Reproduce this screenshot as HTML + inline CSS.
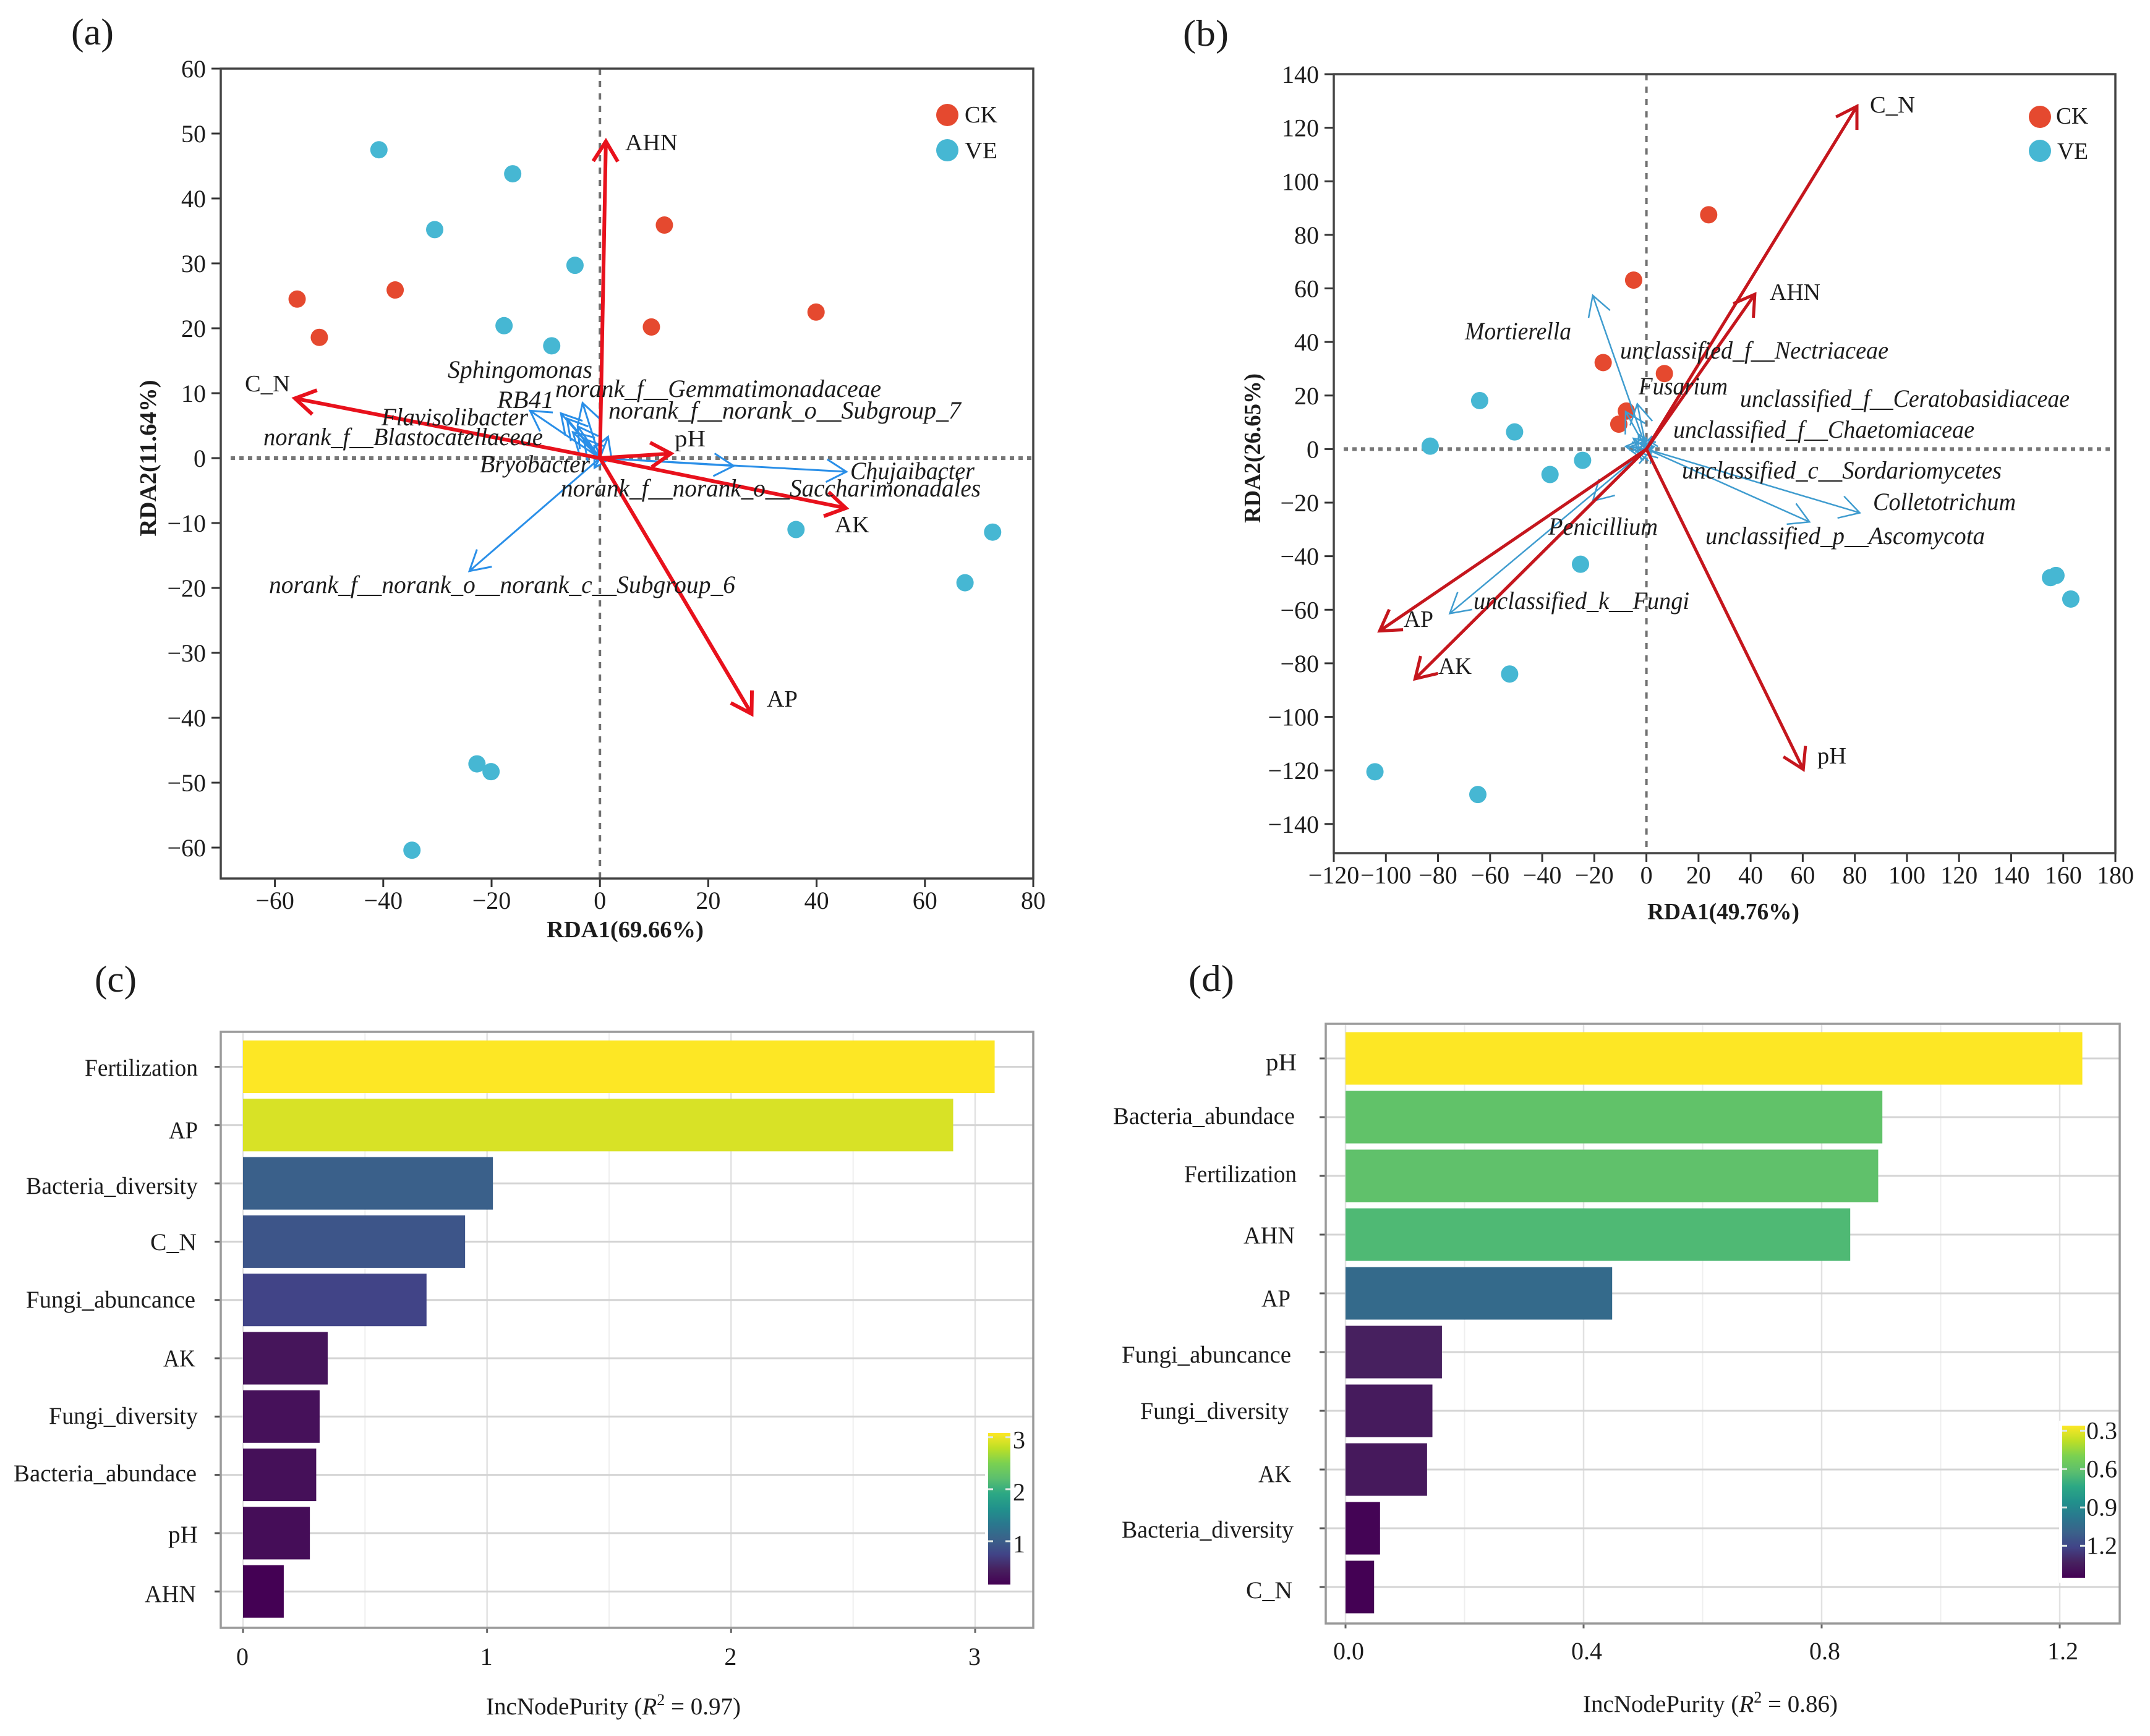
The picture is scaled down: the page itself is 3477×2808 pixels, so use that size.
<!DOCTYPE html>
<html lang="en">
<head>
<meta charset="utf-8">
<title>RDA biplots and random forest importance</title>
<style>
html,body{margin:0;padding:0;background:#fff;}
svg{display:block;}
text{font-family:"Liberation Serif",serif;fill:#1c1c1c;}
.sp{font-style:italic;font-size:40px;}
.env{font-size:38px;}
.tl{font-size:40px;}
.cat{font-size:39px;}
.ttl{font-weight:bold;font-size:38px;}
.pt{font-size:60px;}
.leg{font-size:38px;}
.xt{font-size:39px;}
</style>
</head>
<body>
<svg id="fig" xmlns="http://www.w3.org/2000/svg" width="3477" height="2808" viewBox="0 0 3477 2808">
  <defs>
    <linearGradient id="viridis-grad" x1="0" y1="1" x2="0" y2="0"></linearGradient>
  </defs>
  <rect x="0" y="0" width="3477" height="2808" fill="#fff"/>

  <text class="pt" x="115" y="72" textLength="69" lengthAdjust="spacingAndGlyphs">(a)</text>
  <text class="pt" x="1913" y="74" textLength="74" lengthAdjust="spacingAndGlyphs">(b)</text>
  <text class="pt" x="153" y="1604" textLength="68" lengthAdjust="spacingAndGlyphs">(c)</text>
  <text class="pt" x="1922" y="1603" textLength="74" lengthAdjust="spacingAndGlyphs">(d)</text>

  <g id="panel-a"></g>
  <g id="panel-b"></g>
  <g id="panel-c"></g>
  <g id="panel-d"></g>

  <g id="labels-a">
    <text class="ttl" x="1011" y="1516" text-anchor="middle" textLength="254" lengthAdjust="spacingAndGlyphs">RDA1(69.66%)</text>
    <text class="ttl" transform="translate(252,741) rotate(-90)" text-anchor="middle" textLength="253" lengthAdjust="spacingAndGlyphs">RDA2(11.64%)</text>

    <circle cx="1532" cy="186" r="18" fill="#e5492f"/>
    <text class="leg" x="1560" y="198" textLength="53" lengthAdjust="spacingAndGlyphs">CK</text>
    <circle cx="1532" cy="243" r="18" fill="#46b7d3"/>
    <text class="leg" x="1560" y="256" textLength="53" lengthAdjust="spacingAndGlyphs">VE</text>

    <text class="env" x="1011" y="243" textLength="85" lengthAdjust="spacingAndGlyphs">AHN</text>
    <text class="env" x="396" y="633" textLength="73" lengthAdjust="spacingAndGlyphs">C_N</text>
    <text class="env" x="1091" y="722" textLength="50" lengthAdjust="spacingAndGlyphs">pH</text>
    <text class="env" x="1350" y="861" textLength="56" lengthAdjust="spacingAndGlyphs">AK</text>
    <text class="env" x="1240" y="1143" textLength="50" lengthAdjust="spacingAndGlyphs">AP</text>

    <text class="sp" x="724" y="611" textLength="234" lengthAdjust="spacingAndGlyphs">Sphingomonas</text>
    <text class="sp" x="898" y="642" textLength="527" lengthAdjust="spacingAndGlyphs">norank_f__Gemmatimonadaceae</text>
    <text class="sp" x="984" y="677" textLength="570" lengthAdjust="spacingAndGlyphs">norank_f__norank_o__Subgroup_7</text>
    <text class="sp" x="804" y="660" textLength="92" lengthAdjust="spacingAndGlyphs">RB41</text>
    <text class="sp" x="617" y="688" textLength="237" lengthAdjust="spacingAndGlyphs">Flavisolibacter</text>
    <text class="sp" x="426" y="720" textLength="452" lengthAdjust="spacingAndGlyphs">norank_f__Blastocatellaceae</text>
    <text class="sp" x="776" y="764" textLength="178" lengthAdjust="spacingAndGlyphs">Bryobacter</text>
    <text class="sp" x="1375" y="775" textLength="201" lengthAdjust="spacingAndGlyphs">Chujaibacter</text>
    <text class="sp" x="907" y="803" textLength="679" lengthAdjust="spacingAndGlyphs">norank_f__norank_o__Saccharimonadales</text>
    <text class="sp" x="435" y="959" textLength="754" lengthAdjust="spacingAndGlyphs">norank_f__norank_o__norank_c__Subgroup_6</text>
  </g>

  <g id="labels-b">
    <text class="ttl" x="2787" y="1487" text-anchor="middle" textLength="246" lengthAdjust="spacingAndGlyphs">RDA1(49.76%)</text>
    <text class="ttl" transform="translate(2038,725) rotate(-90)" text-anchor="middle" textLength="242" lengthAdjust="spacingAndGlyphs">RDA2(26.65%)</text>

    <circle cx="3299" cy="189" r="18" fill="#e5492f"/>
    <text class="leg" x="3325" y="200" textLength="52" lengthAdjust="spacingAndGlyphs">CK</text>
    <circle cx="3299" cy="244" r="18" fill="#46b7d3"/>
    <text class="leg" x="3327" y="257" textLength="50" lengthAdjust="spacingAndGlyphs">VE</text>

    <text class="env" x="3024" y="182" textLength="73" lengthAdjust="spacingAndGlyphs">C_N</text>
    <text class="env" x="2862" y="485" textLength="82" lengthAdjust="spacingAndGlyphs">AHN</text>
    <text class="env" x="2939" y="1235" textLength="47" lengthAdjust="spacingAndGlyphs">pH</text>
    <text class="env" x="2270" y="1014" textLength="48" lengthAdjust="spacingAndGlyphs">AP</text>
    <text class="env" x="2326" y="1090" textLength="54" lengthAdjust="spacingAndGlyphs">AK</text>

    <text class="sp" x="2369" y="549" textLength="172" lengthAdjust="spacingAndGlyphs">Mortierella</text>
    <text class="sp" x="2620" y="580" textLength="434" lengthAdjust="spacingAndGlyphs">unclassified_f__Nectriaceae</text>
    <text class="sp" x="2650" y="638" textLength="144" lengthAdjust="spacingAndGlyphs">Fusarium</text>
    <text class="sp" x="2814" y="658" textLength="533" lengthAdjust="spacingAndGlyphs">unclassified_f__Ceratobasidiaceae</text>
    <text class="sp" x="2706" y="708" textLength="487" lengthAdjust="spacingAndGlyphs">unclassified_f__Chaetomiaceae</text>
    <text class="sp" x="2720" y="774" textLength="517" lengthAdjust="spacingAndGlyphs">unclassified_c__Sordariomycetes</text>
    <text class="sp" x="3029" y="825" textLength="231" lengthAdjust="spacingAndGlyphs">Colletotrichum</text>
    <text class="sp" x="2758" y="880" textLength="452" lengthAdjust="spacingAndGlyphs">unclassified_p__Ascomycota</text>
    <text class="sp" x="2504" y="865" textLength="177" lengthAdjust="spacingAndGlyphs">Penicillium</text>
    <text class="sp" x="2383" y="985" textLength="349" lengthAdjust="spacingAndGlyphs">unclassified_k__Fungi</text>
  </g>

  <g id="labels-c">
    <text class="cat" x="137" y="1740" textLength="183" lengthAdjust="spacingAndGlyphs">Fertilization</text>
    <text class="cat" x="273" y="1841" textLength="47" lengthAdjust="spacingAndGlyphs">AP</text>
    <text class="cat" x="42" y="1931" textLength="278" lengthAdjust="spacingAndGlyphs">Bacteria_diversity</text>
    <text class="cat" x="243" y="2022" textLength="75" lengthAdjust="spacingAndGlyphs">C_N</text>
    <text class="cat" x="42" y="2115" textLength="274" lengthAdjust="spacingAndGlyphs">Fungi_abuncance</text>
    <text class="cat" x="264" y="2210" textLength="52" lengthAdjust="spacingAndGlyphs">AK</text>
    <text class="cat" x="79" y="2303" textLength="241" lengthAdjust="spacingAndGlyphs">Fungi_diversity</text>
    <text class="cat" x="22" y="2396" textLength="296" lengthAdjust="spacingAndGlyphs">Bacteria_abundace</text>
    <text class="cat" x="272" y="2495" textLength="48" lengthAdjust="spacingAndGlyphs">pH</text>
    <text class="cat" x="234" y="2591" textLength="83" lengthAdjust="spacingAndGlyphs">AHN</text>
  </g>

  <g id="labels-d">
    <text class="cat" x="2047" y="1731" textLength="50" lengthAdjust="spacingAndGlyphs">pH</text>
    <text class="cat" x="1800" y="1818" textLength="294" lengthAdjust="spacingAndGlyphs">Bacteria_abundace</text>
    <text class="cat" x="1915" y="1912" textLength="182" lengthAdjust="spacingAndGlyphs">Fertilization</text>
    <text class="cat" x="2011" y="2011" textLength="83" lengthAdjust="spacingAndGlyphs">AHN</text>
    <text class="cat" x="2040" y="2113" textLength="47" lengthAdjust="spacingAndGlyphs">AP</text>
    <text class="cat" x="1814" y="2204" textLength="274" lengthAdjust="spacingAndGlyphs">Fungi_abuncance</text>
    <text class="cat" x="1844" y="2295" textLength="241" lengthAdjust="spacingAndGlyphs">Fungi_diversity</text>
    <text class="cat" x="2035" y="2397" textLength="53" lengthAdjust="spacingAndGlyphs">AK</text>
    <text class="cat" x="1814" y="2487" textLength="278" lengthAdjust="spacingAndGlyphs">Bacteria_diversity</text>
    <text class="cat" x="2015" y="2585" textLength="75" lengthAdjust="spacingAndGlyphs">C_N</text>
  </g>

  <text class="xt" x="992" y="2773" text-anchor="middle">IncNodePurity (<tspan font-style="italic">R</tspan><tspan font-size="26" dy="-15">2</tspan><tspan dy="15"> = 0.97)</tspan></text>
  <text class="xt" x="2766" y="2769" text-anchor="middle">IncNodePurity (<tspan font-style="italic">R</tspan><tspan font-size="26" dy="-15">2</tspan><tspan dy="15"> = 0.86)</tspan></text>
</svg>

<script>
// ---------- panel (a) data ----------
const aCkX = [-55.9, -51.8, -37.8, 11.9, 9.5, 39.9];
const aCkY = [24.5, 18.6, 25.9, 35.9, 20.2, 22.5];
const aVeX = [-40.8, -16.1, -30.5, -4.6, -17.7, -8.9, 36.2, 72.5, 67.4, -22.7, -20.1, -34.7];
const aVeY = [47.5, 43.8, 35.2, 29.7, 20.4, 17.3, -11, -11.4, -19.2, -47.1, -48.3, -60.4];
const aEnvX = [1.1, -56.3, 13.1, 45.4, 28];
const aEnvY = [48.8, 9.2, 0.7, -7.7, -39.4];
const aTaxaX = [45.5, 24.7, -24.1, -12.9, -3.2, -7.2, -6.1, -4.1, 1.5, -1, -5, -3];
const aTaxaY = [-2.1, -1.2, -17.4, 7.3, 8.5, 6.9, 6.1, 4.9, 3.3, -1.5, 4, 3];
const aXTicks = [-60, -40, -20, 0, 20, 40, 60, 80];
const aYTicks = [60, 50, 40, 30, 20, 10, 0, -10, -20, -30, -40, -50, -60];

// ---------- panel (b) data ----------
const bCkX = [23.9, -4.9, -16.6, 6.9, -7.7, -10.6];
const bCkY = [87.5, 63.1, 32.3, 28.2, 14.2, 9.3];
const bVeX = [-64, -50.6, -83, -24.5, -37, -25.3, -52.5, -104.2, -64.7, 155.1, 157.2, 162.9];
const bVeY = [18.1, 6.4, 1.1, -4.2, -9.5, -43, -84, -120.5, -129, -48, -47.2, -56];
const bEnvX = [80.8, 41.6, 60.2, -102.4, -88.8];
const bEnvY = [128, 57.8, -119.6, -67.9, -85.8];
const bTaxaX = [-20.6, -75.5, 81.9, 62.6, -20.6, -3.5, -8, -8, -3, 2, -5, -6, 3, -4];
const bTaxaY = [57.4, -61.4, -23.8, -27.2, -19.4, 16.9, 14, 1, 5.5, 3, 4, 1, 1, -1];
const bXTicks = [-120, -100, -80, -60, -40, -20, 0, 20, 40, 60, 80, 100, 120, 140, 160, 180];
const bYTicks = [140, 120, 100, 80, 60, 40, 20, 0, -20, -40, -60, -80, -100, -120, -140];

// ---------- panel (c) data ----------
const cNames = ['Fertilization', 'AP', 'Bacteria_diversity', 'C_N', 'Fungi_abuncance', 'AK', 'Fungi_diversity', 'Bacteria_abundace', 'pH', 'AHN'];
const cValues = [3.08, 2.91, 1.024, 0.91, 0.752, 0.347, 0.314, 0.30, 0.274, 0.167];
const cXTicks = [0, 1, 2, 3];
const cXMinor = [0.5, 1.5, 2.5];
const cBarTicks = [3, 2, 1];
const cBarLabels = ['3', '2', '1'];

// ---------- panel (d) data ----------
const dNames = ['pH', 'Bacteria_abundace', 'Fertilization', 'AHN', 'AP', 'Fungi_abuncance', 'Fungi_diversity', 'AK', 'Bacteria_diversity', 'C_N'];
const dValues = [1.238, 0.902, 0.895, 0.848, 0.448, 0.162, 0.146, 0.137, 0.058, 0.048];
const dXTicks = [0, 0.4, 0.8, 1.2];
const dXTickLabels = ['0.0', '0.4', '0.8', '1.2'];
const dXMinor = [0.2, 0.6, 1.0];
const dBarTicks = [0.3, 0.6, 0.9, 1.2];
const dBarLabels = ['0.3', '0.6', '0.9', '1.2'];

const viridis = ['#440154', '#47215f', '#414487', '#3a628a', '#2a788e', '#21918c', '#2ca884', '#5cbf6e', '#7ad151', '#bddf26', '#fde725'];

const NS = 'http://www.w3.org/2000/svg';
function mk(tag, parent, attrs) {
  const n = document.createElementNS(NS, tag);
  for (const k in attrs) n.setAttribute(k, attrs[k]);
  parent.appendChild(n);
  return n;
}
function linear(d0, d1, r0, r1) {
  return function (v) { return r0 + (v - d0) * (r1 - r0) / (d1 - d0); };
}
function hexToRgb(h) {
  return [parseInt(h.slice(1, 3), 16), parseInt(h.slice(3, 5), 16), parseInt(h.slice(5, 7), 16)];
}
function viridisColor(t) {
  const p = Math.max(0, Math.min(1, t)) * (viridis.length - 1);
  const i = Math.min(viridis.length - 2, Math.floor(p));
  const a = hexToRgb(viridis[i]);
  const b = hexToRgb(viridis[i + 1]);
  const f = p - i;
  const c = [0, 1, 2].map(function (k) { return Math.round(a[k] + (b[k] - a[k]) * f); });
  return 'rgb(' + c.join(',') + ')';
}
function minusFmt(v) {
  return String(v).replace('-', '\u2212');
}

// gradient stops for the colour bars
const grad = document.getElementById('viridis-grad');
viridis.forEach(function (c, i) {
  mk('stop', grad, { offset: (i / (viridis.length - 1)), 'stop-color': c });
});

function drawRda(cfg) {
  const g = document.getElementById(cfg.id);
  const sx = linear(cfg.xDom[0], cfg.xDom[1], cfg.left, cfg.right);
  const sy = linear(cfg.yDom[0], cfg.yDom[1], cfg.bottom, cfg.top);

  const hz = mk('line', g, { x1: cfg.left + 16, x2: cfg.right - 3, y1: sy(0), y2: sy(0), stroke: '#777', 'stroke-width': 6, 'stroke-dasharray': '7 7' });
  
  
  const vt = mk('line', g, { x1: sx(0), x2: sx(0), y1: cfg.top, y2: cfg.bottom, stroke: '#707070', 'stroke-width': 4, 'stroke-dasharray': '10 10' });
  
  

  cfg.xTicks.forEach(function (v) {
    const t = mk('line', g, { x1: sx(v), x2: sx(v), y1: cfg.bottom, y2: cfg.bottom + 14, stroke: '#333', 'stroke-width': 3 });
    
    
    const l = mk('text', g, { x: sx(v), y: cfg.bottom + cfg.xLabelGap, 'text-anchor': 'middle', class: 'tl' });
    
    
    l.textContent = minusFmt(v);
  });
  cfg.yTicks.forEach(function (v) {
    const t = mk('line', g, { x1: cfg.left - 15, x2: cfg.left, y1: sy(v), y2: sy(v), stroke: '#333', 'stroke-width': 3 });
    
    
    const l = mk('text', g, { x: cfg.left - 24, y: sy(v) + 14, 'text-anchor': 'end', class: 'tl' });
    
    
    l.textContent = minusFmt(v);
  });

  const fr = mk('rect', g, { x: cfg.left, y: cfg.top, width: cfg.right - cfg.left, height: cfg.bottom - cfg.top, fill: 'none', stroke: '#444', 'stroke-width': 3.5 });
  
  

  cfg.ckX.forEach(function (v, i) {
    const c = mk('circle', g, { cx: sx(v), cy: sy(cfg.ckY[i]), r: 14, fill: '#e5492f' });
    
    
  });
  cfg.veX.forEach(function (v, i) {
    const c = mk('circle', g, { cx: sx(v), cy: sy(cfg.veY[i]), r: 14, fill: '#46b7d3' });
    
    
  });

  function arrowPath(vx, vy, barb, ang) {
    const x0 = sx(0), y0 = sy(0), x1 = sx(vx), y1 = sy(vy);
    const th = Math.atan2(y0 - y1, x0 - x1);
    const bx1 = x1 + barb * Math.cos(th + ang), by1 = y1 + barb * Math.sin(th + ang);
    const bx2 = x1 + barb * Math.cos(th - ang), by2 = y1 + barb * Math.sin(th - ang);
    return 'M' + x0 + ' ' + y0 + 'L' + x1 + ' ' + y1 + 'M' + bx1 + ' ' + by1 + 'L' + x1 + ' ' + y1 + 'L' + bx2 + ' ' + by2;
  }
  cfg.taxaX.forEach(function (v, i) {
    const p = mk('path', g, { d: arrowPath(v, cfg.taxaY[i], 37, 0.52), fill: 'none', stroke: cfg.taxaColor, 'stroke-width': cfg.taxaWidth });
    
    
  });
  cfg.envX.forEach(function (v, i) {
    const p = mk('path', g, { d: arrowPath(v, cfg.envY[i], 38, 0.55), fill: 'none', stroke: cfg.envColor, 'stroke-width': cfg.envWidth });
    
    
  });
}

drawRda({
  id: 'panel-a', left: 357, right: 1671, top: 111, bottom: 1421,
  xDom: [-70, 80], yDom: [-64.76, 60],
  xTicks: aXTicks, yTicks: aYTicks, xLabelGap: 49,
  ckX: aCkX, ckY: aCkY, veX: aVeX, veY: aVeY,
  envX: aEnvX, envY: aEnvY, taxaX: aTaxaX, taxaY: aTaxaY,
  envColor: '#e8111c', envWidth: 6, taxaColor: '#2a8fe8', taxaWidth: 3
});
drawRda({
  id: 'panel-b', left: 2157, right: 3421, top: 120, bottom: 1380,
  xDom: [-120, 180], yDom: [-150.9, 140],
  xTicks: bXTicks, yTicks: bYTicks, xLabelGap: 49,
  ckX: bCkX, ckY: bCkY, veX: bVeX, veY: bVeY,
  envX: bEnvX, envY: bEnvY, taxaX: bTaxaX, taxaY: bTaxaY,
  envColor: '#c5161d', envWidth: 5, taxaColor: '#3f9ccf', taxaWidth: 2.5
});

function drawBars(cfg) {
  const g = document.getElementById(cfg.id);
  const sx = linear(0, cfg.unitMax, cfg.x0, cfg.xMax);
  const minV = Math.min.apply(null, cfg.values);
  const maxV = Math.max.apply(null, cfg.values);

  cfg.minor.forEach(function (v) {
    const l = mk('line', g, { x1: sx(v), x2: sx(v), y1: cfg.top, y2: cfg.bottom, stroke: '#efefef', 'stroke-width': 2 });
    
    
  });
  cfg.ticks.forEach(function (v, i) {
    const l = mk('line', g, { x1: sx(v), x2: sx(v), y1: cfg.top, y2: cfg.bottom, stroke: '#e2e2e2', 'stroke-width': 2.5 });
    
    
    const t = mk('line', g, { x1: sx(v), x2: sx(v), y1: cfg.bottom, y2: cfg.bottom + 8, stroke: '#666', 'stroke-width': 3 });
    
    
    const lb = mk('text', g, { x: sx(v) + cfg.tickShift, y: cfg.tickBase, 'text-anchor': 'middle', class: 'tl' });
    
    
    lb.textContent = cfg.tickLabels[i];
  });
  cfg.names.forEach(function (n, i) {
    const yc = cfg.firstCenter + i * cfg.pitch;
    const gl = mk('line', g, { x1: cfg.left, x2: cfg.right, y1: yc, y2: yc, stroke: '#d4d4d4', 'stroke-width': 3 });
    
    
    const t = mk('line', g, { x1: cfg.left - 10, x2: cfg.left, y1: yc, y2: yc, stroke: '#555', 'stroke-width': 3 });
    
    
  });
  cfg.values.forEach(function (v, i) {
    const yc = cfg.firstCenter + i * cfg.pitch;
    const b = mk('rect', g, { x: sx(0), y: yc - cfg.barH / 2, width: sx(v) - sx(0), height: cfg.barH, fill: viridisColor((v - minV) / (maxV - minV)) });
    
    
  });

  // colour bar
  const cb = cfg.cb;
  const sc = linear(cb.vBottom, cb.vTop, cb.y1, cb.y0);
  const bg = mk('rect', g, { x: cb.x0 - 5, y: cb.y0 - 8, width: cfg.right - cb.x0 + 5, height: cb.y1 - cb.y0 + 16, fill: '#fff' });
  
  
  const r = mk('rect', g, { x: cb.x0, y: cb.y0, width: cb.x1 - cb.x0, height: cb.y1 - cb.y0, fill: 'url(#viridis-grad)' });
  
  
  cb.ticks.forEach(function (v, i) {
    const t1 = mk('line', g, { x1: cb.x0, x2: cb.x0 + 8, y1: sc(v), y2: sc(v), stroke: '#dfe8e4', 'stroke-width': 3 });
    
    
    const t2 = mk('line', g, { x1: cb.x1 - 8, x2: cb.x1, y1: sc(v), y2: sc(v), stroke: '#dfe8e4', 'stroke-width': 3 });
    
    
    const lb = mk('text', g, { x: cb.x1 + cb.labelGap, y: sc(v) + cb.labelDy, class: 'tl' });
    
    
    lb.textContent = cb.labels[i];
  });

  const fr = mk('rect', g, { x: cfg.left, y: cfg.top, width: cfg.right - cfg.left, height: cfg.bottom - cfg.top, fill: 'none', stroke: '#9a9a9a', 'stroke-width': 3.5 });
  
  
}

drawBars({
  id: 'panel-c', left: 357, right: 1671, top: 1669, bottom: 2633,
  x0: 393, xMax: 1577, unitMax: 3, names: cNames, values: cValues,
  ticks: cXTicks, tickLabels: ['0', '1', '2', '3'], minor: cXMinor, tickBase: 2693, tickShift: -1,
  firstCenter: 1725.5, pitch: 94.3, barH: 85,
  cb: { x0: 1598, x1: 1634, y0: 2318, y1: 2563, vBottom: 0.167, vTop: 3.08, ticks: cBarTicks, labels: cBarLabels, labelGap: 4, labelDy: 18 }
});
drawBars({
  id: 'panel-d', left: 2144, right: 3428, top: 1656, bottom: 2626,
  x0: 2176, xMax: 3331, unitMax: 1.2, names: dNames, values: dValues,
  ticks: dXTicks, tickLabels: dXTickLabels, minor: dXMinor, tickBase: 2684, tickShift: 5,
  firstCenter: 1712, pitch: 95, barH: 85,
  cb: { x0: 3335, x1: 3372, y0: 2306, y1: 2552, vBottom: 1.45, vTop: 0.26, ticks: dBarTicks, labels: dBarLabels, labelGap: 2, labelDy: 13 }
});
</script>
</body>
</html>
